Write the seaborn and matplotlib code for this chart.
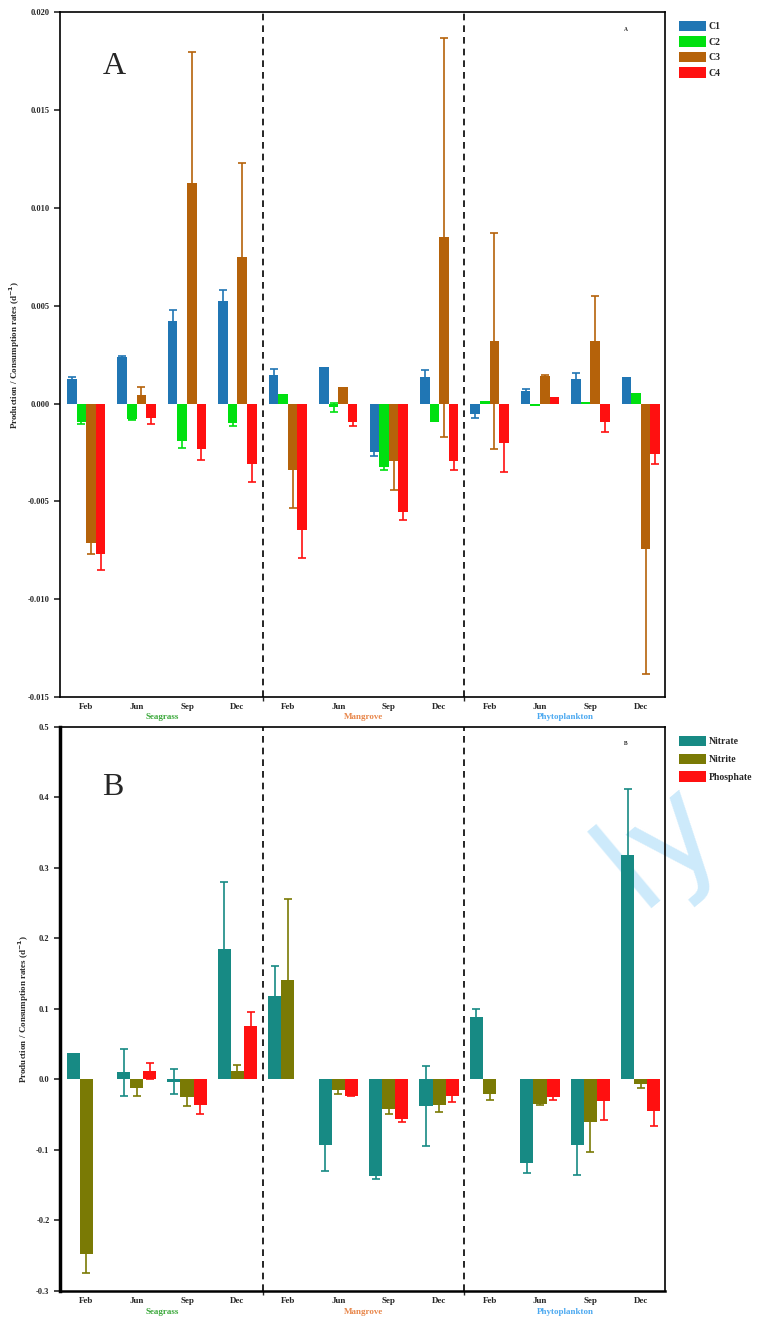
import numpy as np
import pandas as pd
import seaborn as sns
import matplotlib.pyplot as plt
from matplotlib.ticker import FormatStrFormatter, FixedLocator

# categories
months = ["Feb", "Jun", "Sep", "Dec"]
habitats = ["Seagrass", "Mangrove", "Phytoplankton"]
habitat_colors = ["#3aa83a", "#e8864a", "#4aa8f0"]

# panel A : C1..C4 (Seagrass Feb..Dec, Mangrove Feb..Dec, Phytoplankton Feb..Dec)
c1_mean = [0.00127, 0.00239, 0.0042, 0.00522, 0.00144, 0.00185, -0.00249, 0.00136, -0.00056, 0.00064, 0.00125, 0.00136]
c1_err = [0.00007, 0.00005, 0.0006, 0.0006, 0.0003, 0.0, 0.0002, 0.00037, 0.0002, 0.0001, 0.0003, 0.0]
c2_mean = [-0.00093, -0.00081, -0.0019, -0.00098, 0.00047, -0.0002, -0.00324, -0.00097, 0.00012, -0.00014, 0.0001, 0.00054]
c2_err = [0.00012, 0.00004, 0.00037, 0.00017, 0.0, 0.00024, 0.00016, 0.0, 0.0, 0.0, 0.0, 0.0]
c3_mean = [-0.00712, 0.00042, 0.01127, 0.0075, -0.00342, 0.00083, -0.00292, 0.0085, 0.0032, 0.0014, 0.0032, -0.00742]
c3_err = [0.00056, 0.0004, 0.0067, 0.0048, 0.0019, 0.0, 0.0015, 0.0102, 0.0055, 0.00005, 0.0023, 0.0064]
c4_mean = [-0.00771, -0.00073, -0.00232, -0.0031, -0.00647, -0.00097, -0.00556, -0.00292, -0.002, 0.00034, -0.00097, -0.0026]
c4_err = [0.0008, 0.0003, 0.00056, 0.0009, 0.0014, 0.00017, 0.00037, 0.00047, 0.0015, 0.0, 0.00047, 0.0005]

# panel B : nutrients
nitrate_mean = [0.0374, 0.010, -0.003, 0.185, 0.1185, -0.0924, -0.137, -0.038, 0.0891, -0.119, -0.0924, 0.3185]
nitrate_err = [0.0, 0.033, 0.0175, 0.095, 0.043, 0.037, 0.004, 0.057, 0.011, 0.014, 0.043, 0.094]
nitrite_mean = [-0.2474, -0.0119, -0.0242, 0.0118, 0.141, -0.0156, -0.0412, -0.0355, -0.0213, -0.0341, -0.0607, -0.0062]
nitrite_err = [0.027, 0.011, 0.0128, 0.009, 0.115, 0.005, 0.0076, 0.0105, 0.008, 0.002, 0.042, 0.0056]
phosphate_mean = [0.0, 0.0118, -0.0356, 0.0758, 0.0, -0.0228, -0.0555, -0.0237, 0.0, -0.0246, -0.0299, -0.0441]
phosphate_err = [0.0, 0.011, 0.0133, 0.02, 0.0, 0.001, 0.005, 0.008, 0.0, 0.005, 0.027, 0.022]

cats = [h + "-" + m for h in habitats for m in months]

sns.set_style("ticks")
plt.rcParams["font.family"] = ["Liberation Serif", "DejaVu Serif"]
plt.rcParams["font.weight"] = "bold"


def draw_panel(ax, series, means, errs, colors, width, lab_y, spacing):
    rows = []
    for name, vals in zip(series, means):
        for c, v in zip(cats, vals):
            rows.append({"cat": c, "series": name, "value": v})
    df = pd.DataFrame(rows)
    sns.barplot(data=df, x="cat", y="value", hue="series", order=cats,
                hue_order=series, palette=colors, errorbar=None, width=width,
                linewidth=0, saturation=1, ax=ax)
    # error bars, drawn behind the bars
    for cont, vals, ev, col in zip(ax.containers, means, errs, colors):
        xs = np.array([b.get_x() + b.get_width() / 2 for b in cont])
        vals = np.array(vals)
        ev = np.array(ev)
        keep = ev > 0
        ax.errorbar(xs[keep], vals[keep], yerr=ev[keep], fmt="none", ecolor=col,
                    elinewidth=1.2, capsize=3, capthick=1.2, zorder=0.5)
    for xv in [3.5, 7.5]:
        ax.axvline(xv, color="black", ls=(0, (4, 3)), lw=1.2, zorder=0)
    ax.set_xlim(-0.52, 11.48)
    ax.set_xticks(range(12))
    ax.set_xticklabels(months * 3, fontsize=6.5, fontweight="bold")
    ax.tick_params(axis="x", length=0, pad=4)
    ax.xaxis.set_minor_locator(FixedLocator([3.5, 7.5]))
    ax.tick_params(axis="x", which="minor", length=3, width=1)
    ax.tick_params(axis="y", labelsize=6, width=1.2, length=4)
    ax.set_xlabel("")
    ax.set_ylabel("Production / Consumption rates (d$^{-1}$)", fontsize=6.5,
                  fontweight="bold", color="#2a2a2a", labelpad=4)
    ax.patch.set_alpha(0)
    for sp in ax.spines.values():
        sp.set_visible(True)
        sp.set_color("black")
        sp.set_linewidth(1.2)
    for k, (hab, hc) in enumerate(zip(habitats, habitat_colors)):
        ax.text(1.5 + 4 * k, lab_y, hab, transform=ax.get_xaxis_transform(),
                ha="center", va="top", fontsize=6.5, fontweight="bold", color=hc)
    ax.legend(loc="upper left", bbox_to_anchor=(1.008, 1.0), frameon=False,
              handlelength=2.8, handleheight=1.3, labelspacing=spacing,
              handletextpad=0.3, prop={"size": 7, "weight": "bold"})


fig = plt.figure(figsize=(7.63, 13.29), dpi=100)
axA = fig.add_axes([0.0786, 0.4755, 0.793, 0.5154])
axB = fig.add_axes([0.0786, 0.0286, 0.793, 0.4244])

draw_panel(axA, ["C1", "C2", "C3", "C4"], [c1_mean, c2_mean, c3_mean, c4_mean],
           [c1_err, c2_err, c3_err, c4_err],
           ["#2076b4", "#00e010", "#b5620a", "#ff1010"], 0.76, -0.024, 0.5)
axA.set_ylim(-0.015, 0.020)
axA.set_yticks(np.arange(-0.015, 0.0201, 0.005))
axA.yaxis.set_major_formatter(FormatStrFormatter("%.3f"))
for lab in axA.get_yticklabels():
    lab.set_fontweight("bold")
axA.text(0.07, 0.92, "A", transform=axA.transAxes, fontsize=23,
         fontweight="normal", ha="left", va="center")
axA.text(0.935, 0.975, "A", transform=axA.transAxes, fontsize=4,
         fontweight="bold", ha="center", va="center")

draw_panel(axB, ["Nitrate", "Nitrite", "Phosphate"],
           [nitrate_mean, nitrite_mean, phosphate_mean],
           [nitrate_err, nitrite_err, phosphate_err],
           ["#178a84", "#7a7a05", "#ff1010"], 0.78, -0.03, 0.75)
axB.set_ylim(-0.3, 0.5)
axB.set_yticks(np.arange(-0.3, 0.501, 0.1))
axB.yaxis.set_major_formatter(FormatStrFormatter("%.1f"))
for lab in axB.get_yticklabels():
    lab.set_fontweight("bold")
axB.spines["left"].set_linewidth(2.5)
axB.spines["bottom"].set_linewidth(1.8)
axB.text(0.07, 0.893, "B", transform=axB.transAxes, fontsize=23,
         fontweight="normal", ha="left", va="center")
axB.text(0.935, 0.97, "B", transform=axB.transAxes, fontsize=4,
         fontweight="bold", ha="center", va="center")

# faint watermark
fig.text(0.865, 0.365, "ly", rotation=40, color="#cdeafb", fontsize=95,
         family="DejaVu Sans", fontweight="normal", ha="center", va="center",
         zorder=-1)

fig.savefig("out.png", dpi=100)
